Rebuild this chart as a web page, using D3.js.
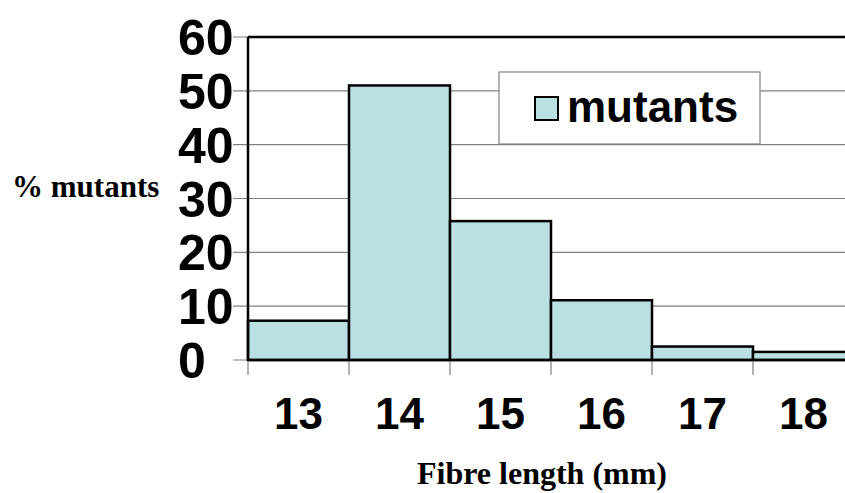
<!DOCTYPE html>
<html>
<head>
<meta charset="utf-8">
<script src="https://cdn.jsdelivr.net/npm/d3@7"></script>
<style>
  html, body { margin: 0; padding: 0; background: #fff; overflow: hidden; }
  svg { display: block; }
</style>
</head>
<body>
<svg id="chart" width="845" height="493"></svg>
<script>
// Fibre length histogram for mutants (% of mutants per length class)
const categories = ["13", "14", "15", "16", "17", "18"];
const mutantsPct = [7.3, 51, 25.8, 11.1, 2.5, 1.5];
const yTicks = [0, 10, 20, 30, 40, 50, 60];
const seriesName = "mutants";
const xTitle = "Fibre length (mm)";
const yTitle = "% mutants";

const svg = d3.select("#chart");
const plot = { left: 248, right: 854, top: 37, bottom: 360 };
const fill = "#BBE0E3";
const sans = "'Liberation Sans', Arial, sans-serif";
const serif = "'Liberation Serif', 'Times New Roman', serif";

const x = d3.scaleBand().domain(categories).range([plot.left, plot.right]).padding(0);
const y = d3.scaleLinear().domain([0, 60]).range([plot.bottom, plot.top]);

// horizontal gridlines, extending left as tick marks
svg.append("g").selectAll("line").data(yTicks).join("line")
  .attr("x1", plot.left - 15).attr("x2", 845)
  .attr("y1", d => y(d)).attr("y2", d => y(d))
  .attr("stroke", "#808080").attr("stroke-width", 1.2);

// bars
svg.append("g").selectAll("rect").data(categories).join("rect")
  .attr("x", d => x(d))
  .attr("y", (d, i) => y(mutantsPct[i]))
  .attr("width", x.bandwidth())
  .attr("height", (d, i) => y(0) - y(mutantsPct[i]))
  .attr("fill", fill)
  .attr("stroke", "#000").attr("stroke-width", 2.5);

// frame: left and top borders, baseline
svg.append("line").attr("x1", plot.left).attr("x2", plot.left)
  .attr("y1", plot.top).attr("y2", plot.bottom)
  .attr("stroke", "#000").attr("stroke-width", 2.5);
svg.append("line").attr("x1", plot.left).attr("x2", 845)
  .attr("y1", plot.top).attr("y2", plot.top)
  .attr("stroke", "#000").attr("stroke-width", 2.5);
svg.append("line").attr("x1", plot.left).attr("x2", 845)
  .attr("y1", plot.bottom).attr("y2", plot.bottom)
  .attr("stroke", "#000").attr("stroke-width", 2.5);

// category boundary ticks below the axis
const bounds = categories.map(c => x(c));
svg.append("g").selectAll("line").data(bounds).join("line")
  .attr("x1", d => d).attr("x2", d => d)
  .attr("y1", plot.bottom + 1).attr("y2", plot.bottom + 15)
  .attr("stroke", "#808080").attr("stroke-width", 1.2);

// y tick labels
svg.append("g").selectAll("text").data(yTicks).join("text")
  .attr("x", 178).attr("y", d => y(d)).attr("dy", "0.36em")
  .attr("font-family", sans).attr("font-weight", "bold").attr("font-size", 50)
  .text(d => d);

// x tick labels
svg.append("g").selectAll("text").data(categories).join("text")
  .attr("x", d => x(d) + x.bandwidth() / 2).attr("y", 429)
  .attr("text-anchor", "middle")
  .attr("font-family", sans).attr("font-weight", "bold").attr("font-size", 44)
  .text(d => d);

// axis titles
svg.append("text").attr("x", 12).attr("y", 197)
  .attr("font-family", serif).attr("font-weight", "bold").attr("font-size", 31)
  .text(yTitle);
svg.append("text").attr("x", 542).attr("y", 484)
  .attr("text-anchor", "middle")
  .attr("font-family", serif).attr("font-weight", "bold").attr("font-size", 32)
  .text(xTitle);

// legend
const lg = svg.append("g");
lg.append("rect").attr("x", 499).attr("y", 72).attr("width", 261).attr("height", 72)
  .attr("fill", "#fff").attr("stroke", "#808080").attr("stroke-width", 1.2);
lg.append("rect").attr("x", 535).attr("y", 97).attr("width", 23).attr("height", 23)
  .attr("fill", fill).attr("stroke", "#000").attr("stroke-width", 2);
lg.append("text").attr("x", 567).attr("y", 122)
  .attr("font-family", sans).attr("font-weight", "bold").attr("font-size", 44)
  .text(seriesName);
</script>
</body>
</html>
